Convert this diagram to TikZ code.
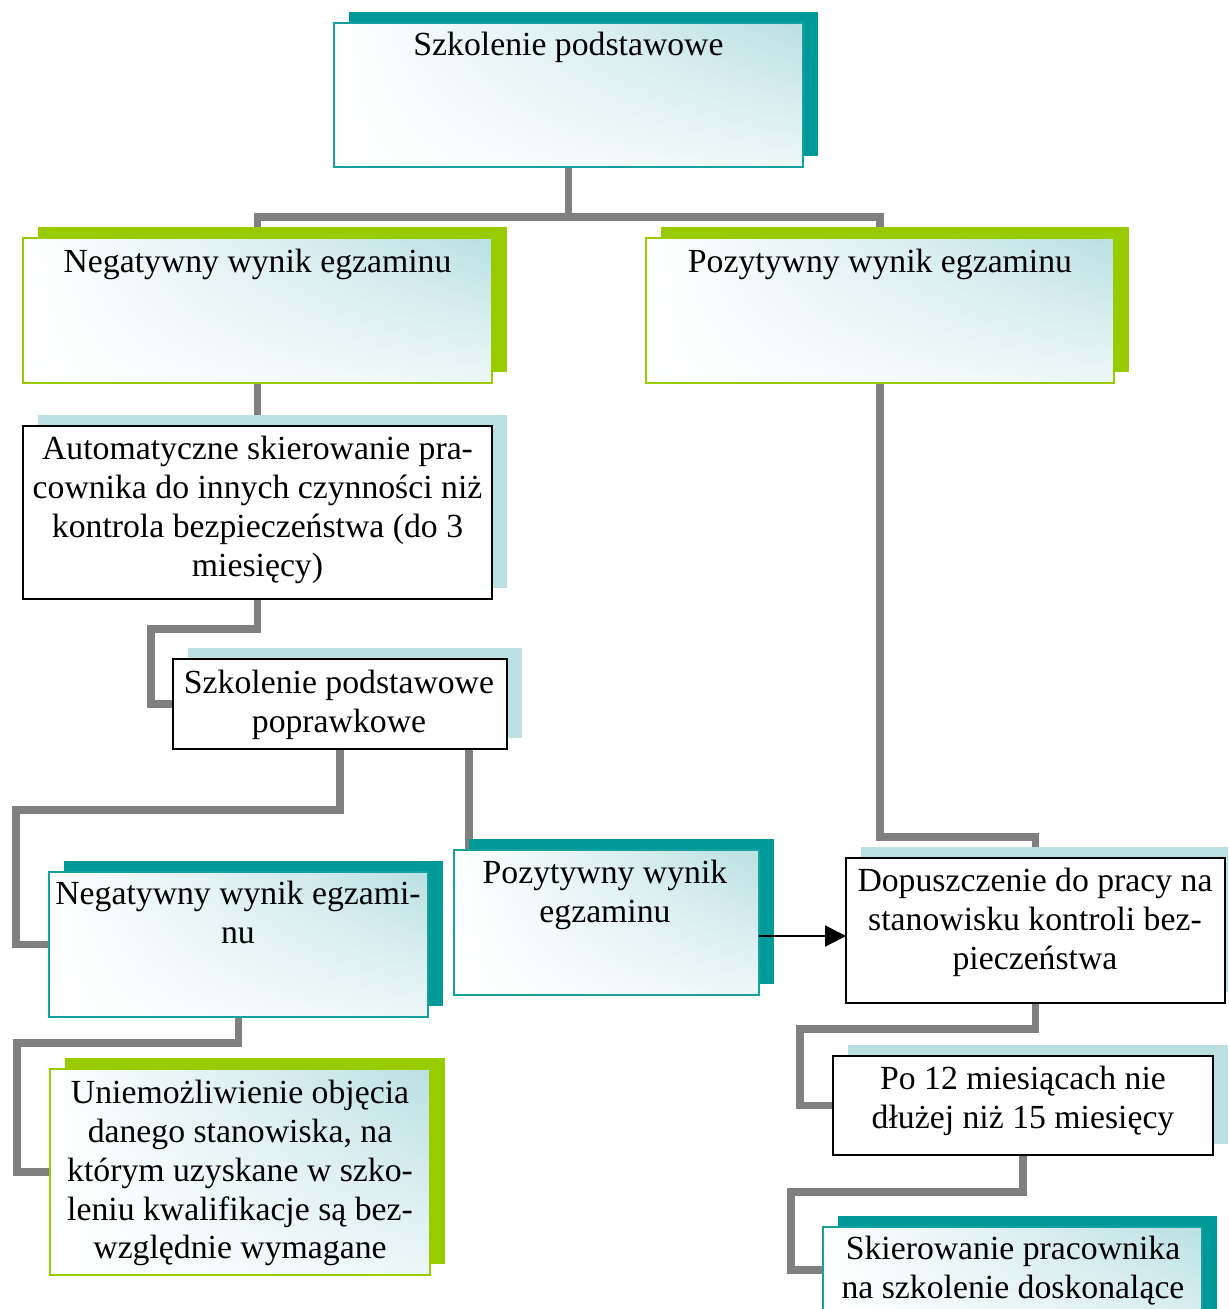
\documentclass[tikz,border=0pt]{standalone}
\usepackage{fontspec}
\setmainfont{Liberation Serif}
\usetikzlibrary{calc,arrows.meta,shadings}
\pgfdeclarelayer{bg}
\pgfsetlayers{bg,main}
\definecolor{tealc}{RGB}{0,153,153}
\definecolor{tealline}{RGB}{22,160,160}
\definecolor{limec}{RGB}{153,204,0}
\definecolor{paleblue}{RGB}{186,224,226}
\definecolor{conngray}{RGB}{128,128,128}

\begin{document}
\begin{tikzpicture}[x=0.02cm, y=-0.02cm,
  box/.style={rectangle, inner sep=0pt, outer sep=0pt},
  fadefill/.style={upper left=white, upper right=paleblue, lower left=white, lower right=paleblue!25},
  tealbox/.style={box, draw=tealline, line width=1.1pt, fadefill},
  limebox/.style={box, draw=limec, line width=1.1pt, fadefill},
  plainbox/.style={box, draw=black, line width=1.5pt, fill=white},
  txt/.style={inner sep=0pt, align=center, anchor=north, yshift=15.47pt,
    font=\fontsize{19.2}{22.1}\selectfont, execute at begin node=\strut},
  multi/.style={txt, yshift=-2.85pt},
  conn/.style={draw=conngray, line width=0.15cm},
  arr/.style={draw=black, line width=1.1pt, -{Triangle[length=0.42cm,width=0.42cm]}}]

\useasboundingbox (0,0) rectangle (1228,1309);
\clip (0,0) rectangle (1228,1309);

% boxes
\node[tealbox,  minimum width=9.38cm, minimum height=2.88cm] (top)   at (568.5,95) {};
\node[limebox,  minimum width=9.38cm, minimum height=2.9cm]  (neg1)  at (257.5,310.5) {};
\node[limebox,  minimum width=9.36cm, minimum height=2.9cm]  (pos1)  at (880,310.5) {};
\node[plainbox, minimum width=9.38cm, minimum height=3.46cm] (auto)  at (257.5,512.5) {};
\node[plainbox, minimum width=6.68cm, minimum height=1.8cm]  (pop)   at (340,704) {};
\node[tealbox,  minimum width=7.58cm, minimum height=2.9cm]  (neg2)  at (238.5,944.5) {};
\node[tealbox,  minimum width=6.1cm,  minimum height=2.9cm]  (pos2)  at (606.5,922.5) {};
\node[plainbox, minimum width=7.58cm, minimum height=2.9cm]  (dop)   at (1035.5,930.5) {};
\node[plainbox, minimum width=7.6cm,  minimum height=1.98cm] (po12)  at (1023,1105.5) {};
\node[tealbox,  minimum width=7.58cm, minimum height=2.9cm]  (skier) at (1012.5,1299.5) {};
\node[limebox,  minimum width=7.6cm,  minimum height=4.12cm] (uni)   at (240,1172) {};

% labels (positioned by first baseline)
\node[txt]   (top-t)   at (568.5,55)  {Szkolenie podstawowe};
\node[txt]   (neg1-t)  at (257.5,272) {Negatywny wynik egzaminu};
\node[txt]   (pos1-t)  at (880,272)   {Pozytywny wynik egzaminu};
\node[multi] (auto-t)  at (257.5,458) {Automatyczne skierowanie pra-\\cownika do innych czynności niż\\kontrola bezpieczeństwa (do 3\\miesięcy)};
\node[multi] (pop-t)   at (339,692)   {Szkolenie podstawowe\\poprawkowe};
\node[multi] (neg2-t)  at (238,903)   {Negatywny wynik egzami-\\nu};
\node[multi] (pos2-t)  at (605,882)   {Pozytywny wynik\\egzaminu};
\node[multi] (dop-t)   at (1035,890)  {Dopuszczenie do pracy na\\stanowisku kontroli bez-\\pieczeństwa};
\node[multi] (po12-t)  at (1023,1088) {Po 12 miesiącach nie\\dłużej niż 15 miesięcy};
\node[multi] (skier-t) at (1013,1258) {Skierowanie pracownika\\na szkolenie doskonalące};
\node[multi] (uni-t)   at (240,1102)  {Uniemożliwienie objęcia\\danego stanowiska, na\\którym uzyskane w szko-\\leniu kwalifikacje są bez-\\względnie wymagane};

% arrow to the admission box
\coordinate (a1) at ($(pos2.east)+(0,13.5)$);
\draw[arr] (a1) -- (a1 -| dop.west);

\begin{pgfonlayer}{bg}
  \clip (0,0) rectangle (1228,1309);
  % connectors
  \coordinate (j1) at (568.5,217);
  \draw[conn] (top.south) -- (j1);
  \draw[conn] (neg1.north) |- (j1) -| (pos1.north);
  \draw[conn] (neg1.south) -- (auto.north);
  \draw[conn] (auto.south) -- ++(0,30) -| ($(pop.west)+(-22,0)$) -- (pop.west);
  \draw[conn] (pop.south) -- ++(0,61) -| ($(neg2.west)+(-33,0)$) -- (neg2.west);
  \coordinate (p5) at ($(pop.south east)+(-38,0)$);
  \draw[conn] (p5) -- (p5 |- pos2.north);
  \draw[conn] (neg2.south) -- ++(0,26) -| ($(uni.west)+(-33,0)$) -- (uni.west);
  \draw[conn] (pos1.south) |- ($(dop.north)+(0,-21)$) -- (dop.north);
  \draw[conn] (dop.south) -- ++(0,26) -| ($(po12.west)+(-33,0)$) -- (po12.west);
  \coordinate (s9) at ($(skier.north west)+(0,43)$);
  \draw[conn] (po12.south) -- ++(0,37) -| ($(s9)+(-32,0)$) -- (s9);
  % offset shadows
  \foreach \b/\c in {top/tealc, neg1/limec, pos1/limec, auto/paleblue, pop/paleblue,
                     neg2/tealc, pos2/tealc, dop/paleblue, po12/paleblue,
                     skier/tealc, uni/limec}
    \fill[\c] ($(\b.south west)+(15,-11)$) rectangle ($(\b.north east)+(15,-11)$);
\end{pgfonlayer}
\end{tikzpicture}
\end{document}
